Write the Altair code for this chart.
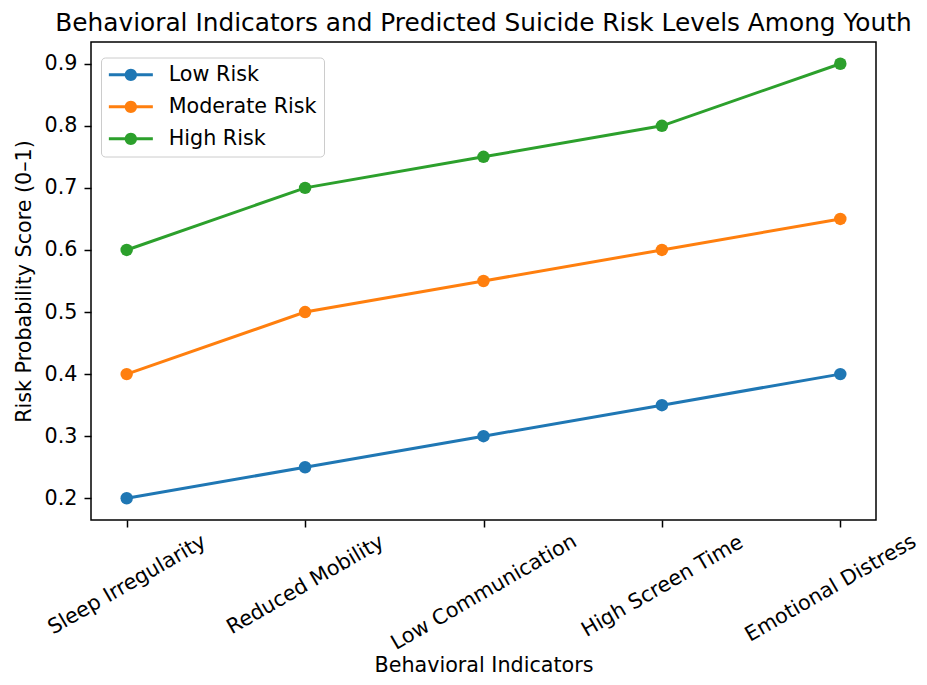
import altair as alt
import pandas as pd

categories = ["Sleep Irregularity", "Reduced Mobility", "Low Communication",
              "High Screen Time", "Emotional Distress"]
low_risk = [0.20, 0.25, 0.30, 0.35, 0.40]
moderate_risk = [0.40, 0.50, 0.55, 0.60, 0.65]
high_risk = [0.60, 0.70, 0.75, 0.80, 0.90]
series_names = ["Low Risk", "Moderate Risk", "High Risk"]
series_colors = ["#1f77b4", "#ff7f0e", "#2ca02c"]
y_ticks = [0.2, 0.3, 0.4, 0.5, 0.6, 0.7, 0.8, 0.9]

rows = []
for name, vals in zip(series_names, [low_risk, moderate_risk, high_risk]):
    for c, v in zip(categories, vals):
        rows.append({"indicator": c, "score": v, "series": name})
df = pd.DataFrame(rows)

FONT = "DejaVu Sans"
FS = 20.7

label_pad = {
    "condition": [
        {"test": "datum.value === 'Low Communication'", "value": 65},
        {"test": "datum.value === 'Emotional Distress'", "value": 61},
        {"test": "datum.value === 'High Screen Time'", "value": 59},
    ],
    "value": 57.5,
}
label_off = {
    "condition": {"test": "datum.value === 'Emotional Distress'", "value": -10},
    "value": 0,
}

x_enc = alt.X(
    "indicator:N", sort=categories,
    scale=alt.Scale(type="point", padding=0.2),
    axis=alt.Axis(
        title="Behavioral Indicators", labelAngle=330, labelAlign="center",
        labelBaseline="middle", labelPadding=label_pad, labelOffset=label_off,
        labelOverlap=False, labelLimit=400, tickSize=7, tickWidth=1.5,
        tickColor="black", domain=False, grid=False, labelFontSize=FS,
        labelColor="black", labelFont=FONT, titleFontSize=FS, titleFont=FONT,
        titleFontWeight="normal", titleColor="black", titleY=151,
        titleBaseline="alphabetic",
    ),
)
y_enc = alt.Y(
    "score:Q",
    scale=alt.Scale(domain=[0.165, 0.935], nice=False, zero=False),
    axis=alt.Axis(
        values=y_ticks, format=".1f", title="Risk Probability Score (0–1)",
        tickSize=7, tickWidth=1.5, tickColor="black", domain=False,
        grid=False, labelFontSize=FS, labelColor="black", labelFont=FONT,
        labelPadding=7, titleFontSize=FS, titleFont=FONT,
        titleFontWeight="normal", titleColor="black", titleX=-61,
        titleY=239, titleAngle=270, titleAlign="center",
        titleBaseline="alphabetic",
    ),
)
scale_c = alt.Scale(domain=series_names, range=series_colors)

sym = ("M-2.2,-0.15L2.2,-0.15L2.2,0.15L-2.2,0.15Z "
       "M-0.62,0A0.62,0.62 0 1,1 0.62,0A0.62,0.62 0 1,1 -0.62,0Z")

legend = alt.Legend(
    title=None, orient="none", legendX=10, legendY=15.5,
    symbolType=sym, symbolSize=400, symbolStrokeWidth=0,
    symbolOffset=12.5, labelOffset=27.5, padding=7, rowPadding=10,
    labelFontSize=FS, labelFont=FONT, labelColor="black",
    fillColor="rgba(255,255,255,0.8)", strokeColor="#cccccc",
    cornerRadius=4, symbolOpacity=1,
)
color_enc = alt.Color("series:N", scale=scale_c, legend=legend)

points = alt.Chart(df).mark_circle(size=155, opacity=1).encode(
    x=x_enc, y=y_enc, color=color_enc,
)
lines = alt.Chart(df).mark_line(strokeWidth=3).encode(
    x=x_enc, y=y_enc, color=color_enc,
)

chart = alt.layer(points, lines).properties(
    width=785, height=478,
    title=alt.TitleParams(
        "Behavioral Indicators and Predicted Suicide Risk Levels Among Youth",
        fontSize=24.8, font=FONT, fontWeight="normal", color="black",
        anchor="middle", baseline="alphabetic", offset=10, dy=24,
    ),
    autosize=alt.AutoSizeParams(type="none"),
    padding={"left": 83, "top": 34, "right": 43, "bottom": 157},
).configure(background="white").configure_view(
    stroke="black", strokeWidth=1.5
)

chart.save("out.html", embed_options={"renderer": "svg", "actions": False})
